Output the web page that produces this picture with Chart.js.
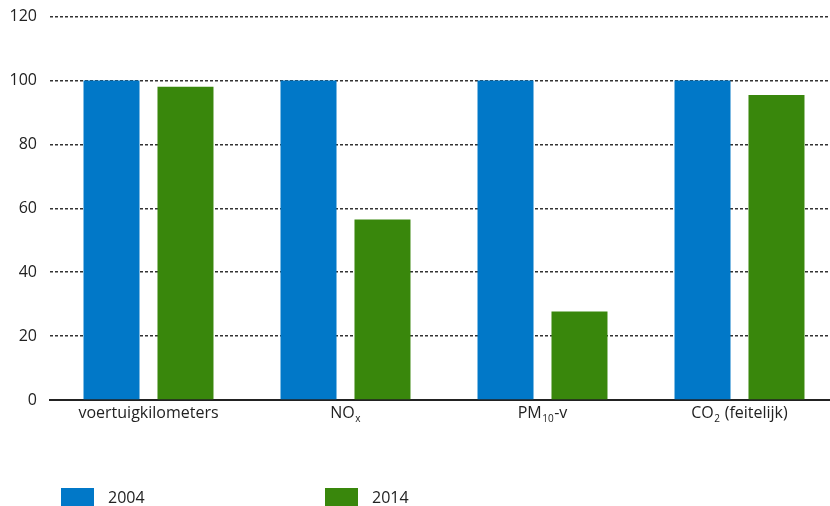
<!DOCTYPE html>
<html>
<head>
<meta charset="utf-8">
<script src="https://cdn.jsdelivr.net/npm/chart.js@4/dist/chart.umd.min.js"></script>
<style>
    html, body { margin: 0; padding: 0; width: 830px; height: 506px; overflow: hidden; background: #fff; }
    #wrap { position: absolute; left: 0; top: 0; width: 840px; height: 506px; }
    .legend { position: absolute; top: 488px; font: 16px "Open Sans", sans-serif; color: #222; }
    .legend span.box { position: absolute; top: 0; width: 33px; height: 18px; }
    .legend span.txt { position: absolute; top: -2px; white-space: nowrap; }
</style>
</head>
<body>
<div id="wrap"><canvas id="chart" width="840" height="506"></canvas></div>
<div class="legend" id="legend"></div>
<script>
// categories, sub-scripts written as _{..}
const categories = ['voertuigkilometers', 'NO_{x}', 'PM_{10}-v', 'CO_{2} (feitelijk)'];
const values2004 = [100, 100, 100, 100];
const values2014 = [98, 56.5, 27.7, 95.4];
const seriesNames = ['2004', '2014'];
const yTicks = [0, 20, 40, 60, 80, 100, 120];

const blue = '#0178C8';
const green = '#39870C';
const textColor = '#222';
const fontFamily = '"Open Sans", sans-serif';

// split "PM_{10}-v" into [{t:'PM'},{t:'10',sub:true},{t:'-v'}]
function parseLabel(s) {
    const parts = [];
    const re = /_\{([^}]*)\}/g;
    let last = 0, m;
    while ((m = re.exec(s)) !== null) {
        if (m.index > last) parts.push({ t: s.slice(last, m.index) });
        parts.push({ t: m[1], sub: true });
        last = re.lastIndex;
    }
    if (last < s.length) parts.push({ t: s.slice(last) });
    return parts;
}

const subLabels = {
    id: 'subLabels',
    afterDraw(chart) {
        const ctx = chart.ctx;
        const xs = chart.scales.x;
        const y = chart.chartArea.bottom + 13;
        ctx.save();
        ctx.fillStyle = textColor;
        ctx.textBaseline = 'middle';
        ctx.textAlign = 'left';
        categories.forEach((c, i) => {
            const parts = parseLabel(c);
            let w = 0;
            parts.forEach(p => {
                ctx.font = (p.sub ? '10px ' : '16px ') + fontFamily;
                p.w = ctx.measureText(p.t).width;
                w += p.w + (p.sub ? 1 : 0);
            });
            let x = xs.getPixelForValue(i) - w / 2;
            parts.forEach(p => {
                ctx.font = (p.sub ? '10px ' : '16px ') + fontFamily;
                ctx.fillText(p.t, x + (p.sub ? 0.5 : 0), p.sub ? y + 6 : y);
                x += p.w + (p.sub ? 1 : 0);
            });
        });
        ctx.restore();
    }
};

new Chart(document.getElementById('chart'), {
    type: 'bar',
    data: {
        labels: categories,
        datasets: [
            { label: seriesNames[0], data: values2004, backgroundColor: blue },
            { label: seriesNames[1], data: values2014, backgroundColor: green }
        ]
    },
    options: {
        responsive: false,
        animation: false,
        events: [],
        layout: { padding: { top: 16.5, right: 2, left: 0, bottom: 0 } },
        categoryPercentage: 0.751,
        barPercentage: 0.757,
        plugins: {
            legend: { display: false },
            tooltip: { enabled: false }
        },
        scales: {
            x: {
                grid: { display: false },
                border: { display: true, color: '#222', width: 2 },
                ticks: { color: 'rgba(0,0,0,0)', font: { family: fontFamily, size: 15 } },
                afterFit(scale) { scale.height = 106; scale.paddingLeft = 0; scale.paddingRight = 0; }
            },
            y: {
                min: 0,
                max: 120,
                afterBuildTicks(scale) { scale.ticks = yTicks.map(v => ({ value: v })); },
                afterFit(scale) { scale.width = 50; scale.paddingTop = 0; scale.paddingBottom = 0; },
                border: { display: false, dash: [3, 2] },
                grid: { color: '#333', lineWidth: 1.5, drawTicks: false },
                ticks: { color: textColor, padding: 13, font: { family: fontFamily, size: 16 } }
            }
        }
    },
    plugins: [subLabels]
});

// legend
const legend = document.getElementById('legend');
const legendX = [61, 325];
[blue, green].forEach((col, i) => {
    const box = document.createElement('span');
    box.className = 'box';
    box.style.left = legendX[i] + 'px';
    box.style.background = col;
    const txt = document.createElement('span');
    txt.className = 'txt';
    txt.style.left = (legendX[i] + 47) + 'px';
    txt.textContent = seriesNames[i];
    legend.appendChild(box);
    legend.appendChild(txt);
});
</script>
</body>
</html>
